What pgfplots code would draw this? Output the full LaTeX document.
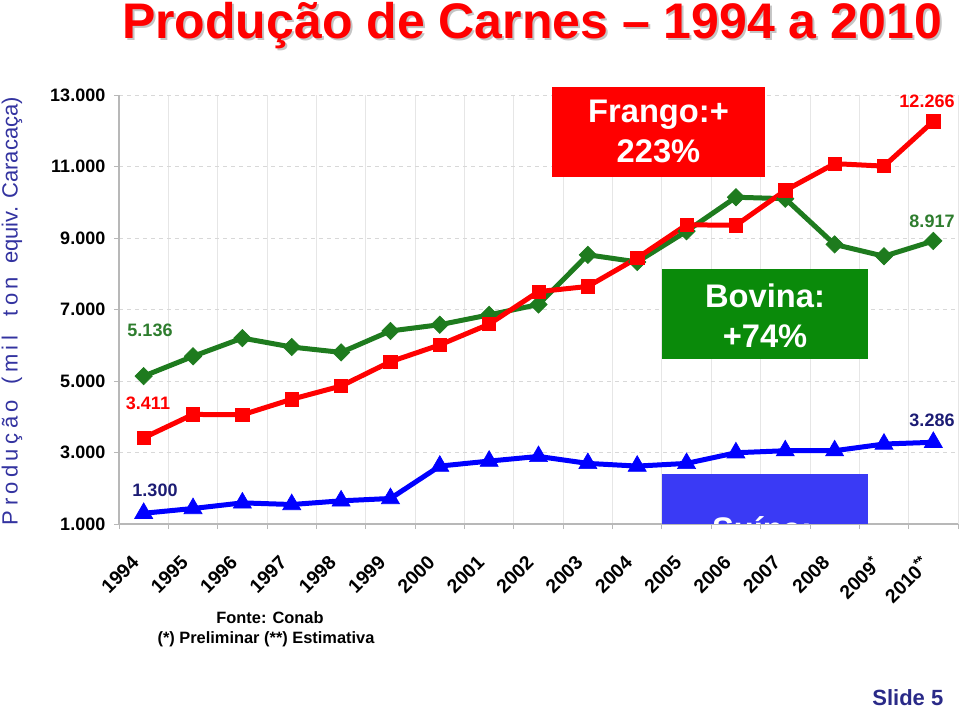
\documentclass[border=0pt]{standalone}
\usepackage{fontspec}
\setmainfont{Liberation Sans}
\usepackage{pgfplots}
\pgfplotsset{compat=1.18}
\definecolor{frango}{HTML}{FF0000}
\definecolor{bovina}{HTML}{1E7B1E}
\definecolor{suina}{HTML}{0000FF}
\definecolor{boxred}{HTML}{FF0000}
\definecolor{boxgreen}{HTML}{0A8A0A}
\definecolor{boxblue}{HTML}{3A3AF5}
\definecolor{lblgreen}{HTML}{2E7D2E}
\definecolor{lblnavy}{HTML}{1C1C74}
\definecolor{ylab}{HTML}{3333A0}
\definecolor{slide}{HTML}{2A2A88}
\definecolor{gridh}{HTML}{D8D8D8}
\definecolor{gridv}{HTML}{E6E6E6}
\definecolor{axisc}{HTML}{B8B8B8}
\definecolor{shadow}{HTML}{C4C4C4}
\newcommand{\ls}{\hspace{0.2em}}

\begin{document}
\begin{tikzpicture}
\path[use as bounding box] (0,0) rectangle (720pt,531pt);
\begin{axis}[
  at={(89.25pt,138pt)}, anchor=south west,
  width=629.25pt, height=321.75pt, scale only axis,
  xmin=-0.5, xmax=16.5, ymin=1000, ymax=13000,
  scaled y ticks=false,
  axis lines*=left,
  axis line style={draw=axisc, line width=0.8pt},
  xtick={0,...,16},
  xticklabels={1994,1995,1996,1997,1998,1999,2000,2001,2002,2003,2004,2005,2006,2007,2008,2009\textsuperscript{*},2010\textsuperscript{**}},
  major x tick style={draw=none},
  minor xtick={-0.5,0.5,...,16.5},
  xminorgrids, minor x grid style={draw=gridv, line width=0.6pt},
  ytick={1000,3000,5000,7000,9000,11000,13000},
  yticklabels={1.000,3.000,5.000,7.000,9.000,11.000,13.000},
  ymajorgrids, y grid style={dashed, draw=gridh, line width=0.6pt},
  tick align=outside, major tick length=3.75pt, minor tick length=3.75pt,
  tick style={draw=axisc, line width=0.6pt},
  yticklabel style={font=\bfseries\fontsize{13.5}{15}\selectfont, xshift=-3pt},
  xticklabel style={font=\bfseries\fontsize{14.5}{16}\selectfont, xshift=-10pt, yshift=-14pt, rotate=45, anchor=north east},
]
% Bovina
\addplot[bovina, line width=3.75pt, mark=square*, mark size=4.6pt,
  mark options={rotate=45, line width=0.5pt}] coordinates {
  (0,5136) (1,5690) (2,6200) (3,5950) (4,5800) (5,6400) (6,6575) (7,6850)
  (8,7140) (9,8530) (10,8330) (11,9190) (12,10140) (13,10100) (14,8820)
  (15,8490) (16,8917)};
% Frango
\addplot[frango, line width=3.75pt, mark=square*, mark size=5pt,
  mark options={line width=0.5pt}] coordinates {
  (0,3411) (1,4065) (2,4055) (3,4490) (4,4860) (5,5540) (6,6010) (7,6590)
  (8,7500) (9,7645) (10,8440) (11,9370) (12,9355) (13,10330) (14,11080)
  (15,11010) (16,12266)};
% Suina
\addplot[suina, line width=3.75pt, mark=triangle*, mark size=7.8pt,
  mark options={line width=0.5pt}] coordinates {
  (0,1300) (1,1434) (2,1591) (3,1545) (4,1648) (5,1714) (6,2620) (7,2760)
  (8,2890) (9,2695) (10,2620) (11,2695) (12,2993) (13,3050) (14,3050)
  (15,3237) (16,3286)};
\end{axis}

\begin{scope}[x=0.75pt, y=-0.75pt, shift={(0pt,531pt)}]
  % title with shadow
  \node[anchor=base, text=shadow, font=\bfseries\fontsize{37.5}{40}\selectfont]
    at (534,41) {Produção de Carnes – 1994 a 2010};
  \node[anchor=base, text=frango, font=\bfseries\fontsize{37.5}{40}\selectfont]
    at (532,39) {Produção de Carnes – 1994 a 2010};
  % y label
  \node[rotate=90, inner sep=0pt, text=ylab, font=\fontsize{16.5}{19}\selectfont]
    at (12,311) {P\ls r\ls o\ls d\ls u\ls ç\ls ã\ls o\hspace{0.7em}(\ls m\ls i\ls l\hspace{0.9em}t\ls o\ls n\hspace{0.6em}equiv. Caracaça)};
  % annotation boxes
  \fill[boxred] (552,87) rectangle (765,177);
  \node[anchor=base, text=white, font=\bfseries\fontsize{24.5}{28}\selectfont] at (658.5,123) {Frango:+};
  \node[anchor=base, text=white, font=\bfseries\fontsize{24.5}{28}\selectfont] at (658.5,163) {223\%};
  \fill[boxgreen] (662,269) rectangle (868,359);
  \node[anchor=base, text=white, font=\bfseries\fontsize{24.5}{28}\selectfont] at (765,307) {Bovina:};
  \node[anchor=base, text=white, font=\bfseries\fontsize{24.5}{28}\selectfont] at (765,347) {+74\%};
  \begin{scope}
    \clip (0,0) rectangle (960,523);
    \fill[boxblue] (662,474) rectangle (868,540);
    \node[anchor=base, text=white, font=\bfseries\fontsize{24.5}{28}\selectfont] at (762,540) {Suína:};
  \end{scope}
  % data labels
  \node[text=lblgreen, font=\bfseries\fontsize{13.5}{15}\selectfont] at (150,330) {5.136};
  \node[text=frango, font=\bfseries\fontsize{13.5}{15}\selectfont] at (148,403) {3.411};
  \node[text=lblnavy, font=\bfseries\fontsize{13.5}{15}\selectfont] at (155,490) {1.300};
  \node[text=frango, font=\bfseries\fontsize{13.5}{15}\selectfont] at (927,101) {12.266};
  \node[text=lblgreen, font=\bfseries\fontsize{13.5}{15}\selectfont] at (932,221) {8.917};
  \node[text=lblnavy, font=\bfseries\fontsize{13.5}{15}\selectfont] at (932,420) {3.286};
  % footer
  \node[anchor=base, font=\bfseries\fontsize{12.3}{14}\selectfont] at (270,623) {Fonte: Conab};
  \node[anchor=base, font=\bfseries\fontsize{12.3}{14}\selectfont] at (266,643) {(*) Preliminar (**) Estimativa};
  \node[anchor=base east, text=slide, font=\bfseries\fontsize{16.5}{18}\selectfont] at (948,705) {Slide 5};
\end{scope}
\end{tikzpicture}
\end{document}
